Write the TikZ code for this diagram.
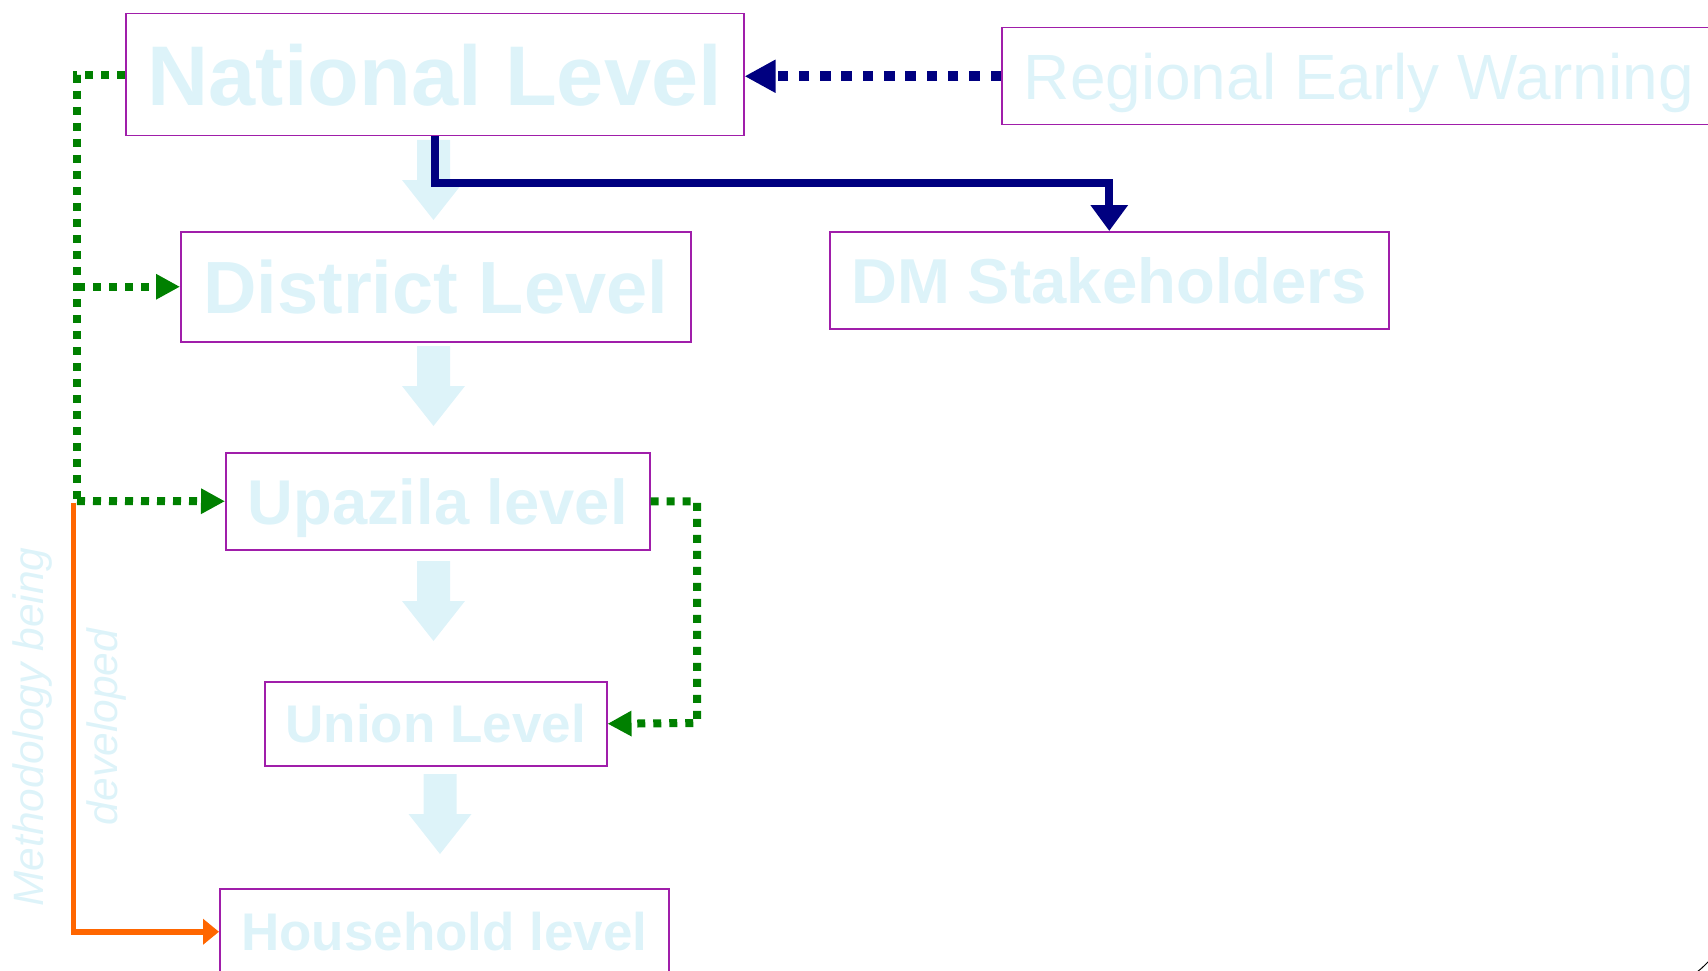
\documentclass[tikz,border=0pt]{standalone}
\usepackage{fontspec}
\setmainfont{Liberation Sans}
\usetikzlibrary{arrows.meta}
\definecolor{paleblue}{RGB}{221,243,249}
\definecolor{boxpurple}{RGB}{160,30,170}
\definecolor{navyc}{RGB}{0,0,128}
\definecolor{greenc}{RGB}{0,128,0}
\definecolor{orangec}{RGB}{255,102,0}
\newcommand\fs[1]{\fontsize{#1}{#1}\selectfont}
\begin{document}
\begin{tikzpicture}[x=1pt,y=-1pt,
  lvl/.style={draw=boxpurple, line width=1.5pt, inner sep=0pt, text depth=0pt, anchor=north west, text=paleblue},
  navyline/.style={draw=navyc, line width=8pt, -{Triangle[length=26pt,width=36pt]}},
  navydots/.style={draw=navyc, line width=10.5pt, dash pattern=on 10.5pt off 10.8pt, -{Triangle[length=31pt,width=31pt]}},
  greendots/.style={draw=greenc, line width=8pt, dash pattern=on 8pt off 8pt},
  greentip/.style={-{Triangle[length=24pt,width=24pt]}},
  orangeline/.style={draw=orangec, line width=5.5pt, -{Triangle[length=16pt,width=25pt]}},
  blockarrow/.pic={\fill[paleblue] (-16.5,0) -- (16.5,0) -- (16.5,40) -- (31.5,40) -- (0,80) -- (-31.5,40) -- (-16.5,40) -- cycle;}
]
\useasboundingbox (0,0) rectangle (1708,971);
\clip (0,0) rectangle (1708,971);

% level boxes
\node[lvl, minimum width=618pt, minimum height=122pt, font=\bfseries\fs{84.7}] (nat) at (125,13) {National Level};
\node[lvl, minimum width=714pt, minimum height=97pt, font=\fs{64}] (reg) at (1001,27) {Regional Early Warning};
\node[lvl, minimum width=510pt, minimum height=110pt, font=\bfseries\fs{74}] (dist) at (180,231) {District Level};
\node[lvl, minimum width=559pt, minimum height=97pt, font=\bfseries\fs{63.5}] (dm) at (829,231) {DM Stakeholders};
\node[lvl, minimum width=424pt, minimum height=97pt, font=\bfseries\fs{63.3}] (upa) at (225,452) {Upazila level};
\node[lvl, minimum width=342pt, minimum height=84pt, font=\bfseries\fs{53}] (uni) at (264,681) {Union Level};
\node[lvl, minimum width=449pt, minimum height=86pt, font=\bfseries\fs{53}] (hh) at (219,888) {Household level};

% downward block arrows between levels
\pic at (433.5,140) {blockarrow};
\pic at (433.5,346) {blockarrow};
\pic at (433.5,561) {blockarrow};
\pic at (440,774) {blockarrow};

% navy connectors
\draw[navyline] (nat.south) -- (nat.south |- 0,183) -| (dm.north);
\draw[navydots] (reg.west) -- (reg.west -| nat.east);

% green dotted feedback lines
\coordinate (gl) at (77,501);
\coordinate (gr) at (697,723);
\draw[greendots] (nat.west) -| (gl);
\draw[greendots, greentip] (gl |- dist.west) -- (dist.west);
\draw[greendots, greentip] (gl) -- (upa.west);
\draw[greendots, greentip] (upa.east) -| (gr) -- (uni.east);

% orange link to household level
\coordinate (os) at (73.5,503);
\draw[orangeline] (os) |- (hh.west);

% side caption
\node[rotate=90, align=center, text=paleblue, font=\itshape\fontsize{42.5}{74}\selectfont] (meth) at (70,727) {Methodology being\\developed};

% corner mark
\draw[black, line width=1pt] (1697,972) .. controls (1702,968) .. (1709,961);
\end{tikzpicture}
\end{document}
